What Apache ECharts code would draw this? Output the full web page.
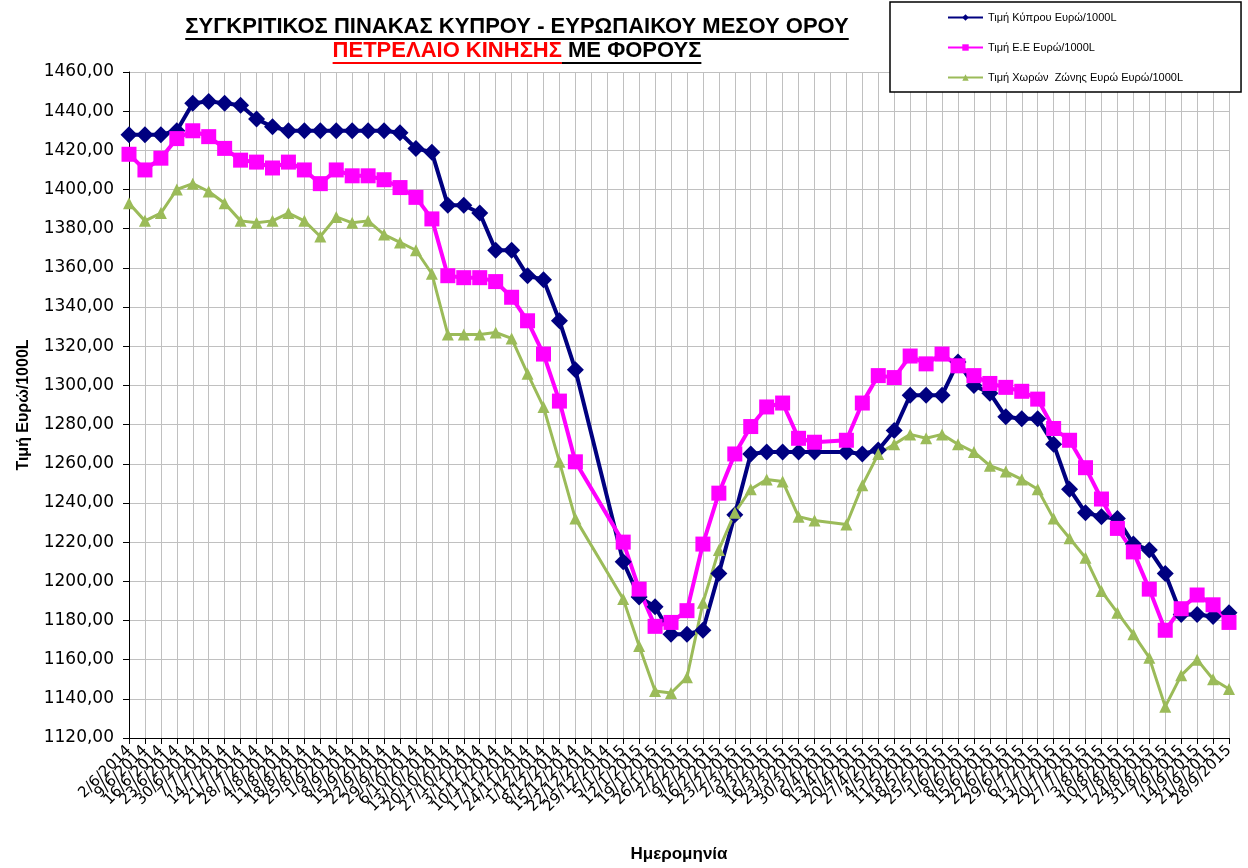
<!DOCTYPE html>
<html>
<head>
<meta charset="utf-8">
<title>Πετρέλαιο κίνησης</title>
<script src="https://cdn.jsdelivr.net/npm/echarts@6/dist/echarts.min.js"></script>
<style>
  html, body { margin: 0; padding: 0; background: #fff; }
  #chart { width: 1248px; height: 868px; }
</style>
</head>
<body>
<div id="chart"></div>
<script>
// weekly dates
var dates = [
	'2/6/2014', '9/6/2014', '16/6/2014', '23/6/2014', '30/6/2014', '7/7/2014', '14/7/2014', '21/7/2014', '28/7/2014',
	'4/8/2014', '11/8/2014', '18/8/2014', '25/8/2014', '1/9/2014', '8/9/2014', '15/9/2014', '22/9/2014', '29/9/2014',
	'6/10/2014', '13/10/2014', '20/10/2014', '27/10/2014', '3/11/2014', '10/11/2014', '17/11/2014', '24/11/2014',
	'1/12/2014', '8/12/2014', '15/12/2014', '22/12/2014', '29/12/2014', '5/1/2015', '12/1/2015', '19/1/2015', '26/1/2015',
	'2/2/2015', '9/2/2015', '16/2/2015', '23/2/2015', '2/3/2015', '9/3/2015', '16/3/2015', '23/3/2015', '30/3/2015',
	'6/4/2015', '13/4/2015', '20/4/2015', '27/4/2015', '4/5/2015', '11/5/2015', '18/5/2015', '25/5/2015', '1/6/2015',
	'8/6/2015', '15/6/2015', '22/6/2015', '29/6/2015', '6/7/2015', '13/7/2015', '20/7/2015', '27/7/2015', '3/8/2015',
	'10/8/2015', '17/8/2015', '24/8/2015', '31/8/2015', '7/9/2015', '14/9/2015', '21/9/2015', '28/9/2015'
];

// Τιμή Κύπρου
var cyprus = [
	1428, 1428, 1428, 1430, 1444, 1445, 1444, 1443, 1436, 1432, 1430, 1430, 1430, 1430, 1430, 1430, 1430, 1429, 1421, 1419,
	1392, 1392, 1388, 1369, 1369, 1356, 1354, 1333, 1308, null, null, 1210, 1192, 1187, 1173, 1173, 1175, 1204, 1234, 1265,
	1266, 1266, 1266, 1266, null, 1266, 1265, 1267, 1277, 1295, 1295, 1295, 1312, 1300, 1296, 1284, 1283, 1283, 1270, 1247,
	1235, 1233, 1232, 1219, 1216, 1204, 1183, 1183, 1182, 1184
];
// Τιμή Ε.Ε
var eu = [
	1418, 1410, 1416, 1426, 1430, 1427, 1421, 1415, 1414, 1411, 1414, 1410, 1403, 1410, 1407, 1407, 1405, 1401, 1396, 1385,
	1356, 1355, 1355, 1353, 1345, 1333, 1316, 1292, 1261, null, null, 1220, 1196, 1177, 1179, 1185, 1219, 1245, 1265, 1279,
	1289, 1291, 1273, 1271, null, 1272, 1291, 1305, 1304, 1315, 1311, 1316, 1310, 1305, 1301, 1299, 1297, 1293, 1278, 1272,
	1258, 1242, 1227, 1215, 1196, 1175, 1186, 1193, 1188, 1179
];
// Τιμή Χωρών Ζώνης Ευρώ
var euroZone = [
	1393, 1384, 1388, 1400, 1403, 1399, 1393, 1384, 1383, 1384, 1388, 1384, 1376, 1386, 1383, 1384, 1377, 1373, 1369, 1357,
	1326, 1326, 1326, 1327, 1324, 1306, 1289, 1261, 1232, null, null, 1191, 1167, 1144, 1143, 1151, 1189, 1216, 1235, 1247,
	1252, 1251, 1233, 1231, null, 1229, 1249, 1265, 1270, 1275, 1273, 1275, 1270, 1266, 1259, 1256, 1252, 1247, 1232, 1222,
	1212, 1195, 1184, 1173, 1161, 1136, 1152, 1160, 1150, 1145
];

var seriesNames = ['Τιμή Κύπρου Ευρώ/1000L', 'Τιμή Ε.Ε Ευρώ/1000L', 'Τιμή Χωρών  Ζώνης Ευρώ Ευρώ/1000L'];
var title1 = 'ΣΥΓΚΡΙΤΙΚΟΣ ΠΙΝΑΚΑΣ ΚΥΠΡΟΥ - ΕΥΡΩΠΑΙΚΟΥ ΜΕΣΟΥ ΟΡΟΥ';
var title2Red = 'ΠΕΤΡΕΛΑΙΟ ΚΙΝΗΣΗΣ';
var title2Black = ' ΜΕ ΦΟΡΟΥΣ';

var titleFont = 'bold 22px "Liberation Sans", Arial, sans-serif';
var ctx = document.createElement('canvas').getContext('2d');
ctx.font = titleFont;
var w1 = ctx.measureText(title1).width;
var wRed = ctx.measureText(title2Red).width;
var wBlack = ctx.measureText(title2Black).width;
var cx = 517;
var x2 = cx - (wRed + wBlack) / 2;

function titleText(x, y, txt, color) {
	return {type: 'text', left: x, top: y, silent: true,
		style: {text: txt, fill: color, font: titleFont, textVerticalAlign: 'top'}};
}
function underline(xa, xb, y, color) {
	return {type: 'line', silent: true,
		shape: {x1: xa, y1: y, x2: xb, y2: y}, style: {stroke: color, lineWidth: 2}};
}

var myChart = echarts.init(document.getElementById('chart'));
myChart.setOption({
	animation: false,
	backgroundColor: '#fff',
	graphic: [
		titleText(cx - w1 / 2, 16, title1, '#000'),
		underline(cx - w1 / 2, cx + w1 / 2, 39, '#000'),
		titleText(x2, 40, title2Red, '#ff0000'),
		titleText(x2 + wRed, 40, title2Black, '#000'),
		underline(x2, x2 + wRed, 63, '#ff0000'),
		underline(x2 + wRed, x2 + wRed + wBlack, 63, '#000')
	],
	legend: {
		data: seriesNames,
		orient: 'vertical',
		left: 890,
		top: 2,
		padding: [10, 58, 9, 57],
		itemGap: 19,
		itemWidth: 35,
		itemHeight: 8,
		backgroundColor: '#fff',
		borderColor: '#000',
		borderWidth: 1.5,
		textStyle: {fontFamily: 'Liberation Sans, Arial', fontSize: 11, color: '#000'}
	},
	grid: {left: 129, right: 19, top: 72, bottom: 124, containLabel: false},
	xAxis: {
		type: 'category',
		data: dates,
		boundaryGap: false,
		name: 'Ημερομηνία',
		nameLocation: 'middle',
		nameGap: 108,
		nameTextStyle: {fontFamily: 'Liberation Sans, Arial', fontSize: 17, fontWeight: 'bold', color: '#000'},
		axisLine: {lineStyle: {color: '#000', width: 1}},
		axisTick: {show: true, interval: 0, length: 6, lineStyle: {color: '#000'}},
		axisLabel: {interval: 0, rotate: 45, margin: 10, fontFamily: 'DejaVu Sans', fontSize: 15, color: '#000'},
		splitLine: {show: true, interval: 0, lineStyle: {color: '#c0c0c0', width: 1}}
	},
	yAxis: {
		type: 'value',
		min: 1120,
		max: 1460,
		interval: 20,
		name: 'Τιμή Ευρώ/1000L',
		nameLocation: 'middle',
		nameRotate: 90,
		nameGap: 97,
		nameTextStyle: {fontFamily: 'Liberation Sans, Arial', fontSize: 16, fontWeight: 'bold', color: '#000'},
		axisLine: {show: true, lineStyle: {color: '#000', width: 1}},
		axisTick: {show: true, length: 6, lineStyle: {color: '#000'}},
		axisLabel: {
			margin: 15, fontFamily: 'DejaVu Sans', fontSize: 17, color: '#000',
			formatter: function(v) { return v.toFixed(2).replace('.', ','); }
		},
		splitLine: {show: true, lineStyle: {color: '#c0c0c0', width: 1}}
	},
	series: [
		{
			name: seriesNames[0], type: 'line', data: cyprus, connectNulls: true,
			symbol: 'diamond', symbolSize: 17,
			lineStyle: {color: '#000080', width: 4},
			itemStyle: {color: '#000080'}
		},
		{
			name: seriesNames[1], type: 'line', data: eu, connectNulls: true,
			symbol: 'rect', symbolSize: 15,
			lineStyle: {color: '#ff00ff', width: 4},
			itemStyle: {color: '#ff00ff'}
		},
		{
			name: seriesNames[2], type: 'line', data: euroZone, connectNulls: true,
			symbol: 'triangle', symbolSize: 12,
			lineStyle: {color: '#9bbb59', width: 3},
			itemStyle: {color: '#9bbb59'}
		}
	]
});
</script>
</body>
</html>
